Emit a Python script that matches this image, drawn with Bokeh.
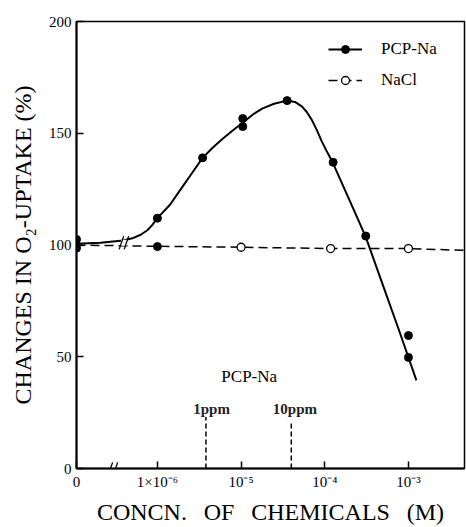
from bokeh.plotting import figure
from bokeh.models import Range1d, FixedTicker, Legend, LegendItem, Label
from bokeh.embed import file_html
from bokeh.resources import INLINE

# ---------------- data (x in log10 of molar concentration; "0" drawn at X_ZERO) ----------------
X_ZERO = -6.967
X_END = -2.33

X_TICKS = [X_ZERO, -6, -5, -4, -3]
X_TICK_LABELS = ["0", "1×10⁻⁶", "10⁻⁵", "10⁻⁴", "10⁻³"]
Y_TICKS = [0, 50, 100, 150, 200]

# PCP-Na measured points
PCP_X = [X_ZERO, X_ZERO, -6.0, -6.0, -5.46, -4.98, -4.98, -4.45, -3.90, -3.51, -3.00, -3.00]
PCP_Y = [102.5, 98.6, 112.0, 99.3, 139.0, 156.6, 153.0, 164.6, 137.0, 104.0, 59.5, 49.7]

# PCP-Na smooth curve
CURVE_X = [X_ZERO, -6.68, -6.41, -6.30, -6.20, -6.12, -6.06, -6.0, -5.85, -5.72, -5.59, -5.46,
           -5.34, -5.22, -5.10, -4.97, -4.855, -4.748, -4.606, -4.452, -4.357, -4.274,
           -4.215, -4.155, -4.096, -4.037, -3.977, -3.906, -3.71, -3.514, -3.30, -3.10, -2.905]
CURVE_Y = [100.6, 101.0, 102.0, 103.0, 104.6, 106.6, 109.0, 112.0, 118.0, 125.0, 132.0, 139.0,
           143.5, 147.5, 151.2, 155.0, 158.5, 161.0, 163.2, 164.6, 164.0, 162.0,
           159.5, 156.0, 151.5, 146.5, 142.0, 137.0, 120.5, 104.0, 81.5, 60.5, 39.4]

# NaCl
NACL_X = [-5.0, -3.93, -3.0]
NACL_Y = [99.0, 98.4, 98.4]
NACL_LINE_X = [X_ZERO, -6.0, -5.0, -3.93, -3.0, X_END]
NACL_LINE_Y = [100.0, 99.4, 99.0, 98.4, 98.4, 97.6]

# 1 ppm / 10 ppm markers of PCP-Na
PPM_X = [-5.42, -4.40]
PPM_TOP = [23.0, 21.5]
PPM_LABELS = ["1ppm", "10ppm"]
PPM_LABEL_X = [-5.353, -4.357]
PPM_LABEL_Y = [26.8, 26.8]
PPM_TITLE = "PCP-Na"
PPM_TITLE_X = -4.903
PPM_TITLE_Y = 41.2

# axis break positions
AXIS_BREAK_X = -6.53
CURVE_BREAK_X = -6.40
CURVE_BREAK_Y = 101.0

FONT = "Liberation Serif"
GAP = "\u2002\u2009"

p = figure(width=466, height=527, output_backend="svg", toolbar_location=None,
           x_range=Range1d(X_ZERO, X_END), y_range=Range1d(0, 200),
           min_border_left=76, min_border_right=2, min_border_top=21, min_border_bottom=59)
p.grid.visible = False
p.outline_line_color = "black"
p.outline_line_width = 1.5
p.background_fill_color = "white"
p.border_fill_color = "white"

for ax in (p.xaxis[0], p.yaxis[0]):
    ax.axis_line_width = 2
    ax.axis_line_color = "black"
    ax.major_tick_in = 7
    ax.major_tick_out = 0
    ax.major_tick_line_width = 1.5
    ax.minor_tick_line_color = None
    ax.major_label_text_font = FONT
    ax.major_label_text_font_size = "15px"
    ax.major_label_text_color = "black"
    ax.axis_label_text_font = FONT
    ax.axis_label_text_font_size = "24px"
    ax.axis_label_text_font_style = "normal"
    ax.axis_label_text_color = "black"

p.xaxis.ticker = FixedTicker(ticks=X_TICKS)
p.xaxis.major_label_overrides = {t: l for t, l in zip(X_TICKS, X_TICK_LABELS)}
p.xaxis.major_label_standoff = 5
p.xaxis.axis_label = GAP.join(["CONCN.", "OF", "CHEMICALS", "(M)"])
p.xaxis.axis_label_standoff = 6

p.yaxis.ticker = FixedTicker(ticks=Y_TICKS)
p.yaxis.major_label_standoff = 5
p.yaxis.axis_label = "CHANGES IN O₂-UPTAKE (%)"
p.yaxis.axis_label_standoff = 10

# NaCl dashed line and open circles
nacl_line = p.line(NACL_LINE_X, NACL_LINE_Y, line_color="black", line_width=1.5, line_dash="9 5")
nacl_pts = p.scatter(NACL_X, NACL_Y, marker="circle", size=8, fill_color="white",
                     line_color="black", line_width=1.3)

# PCP-Na curve and points
pcp_line = p.line(CURVE_X, CURVE_Y, line_color="black", line_width=2)
pcp_pts = p.scatter(PCP_X, PCP_Y, marker="circle", size=8, fill_color="black", line_color="black")

# ppm indicators
p.segment(x0=PPM_X, y0=[0] * len(PPM_X), x1=PPM_X, y1=PPM_TOP, line_color="black",
          line_width=1.5, line_dash="5 3")
for x, y, t in zip(PPM_LABEL_X, PPM_LABEL_Y, PPM_LABELS):
    p.add_layout(Label(x=x, y=y, text=t, text_font=FONT, text_font_size="15px",
                       text_font_style="bold", text_align="center", text_baseline="middle",
                       text_color="#222222"))
p.add_layout(Label(x=PPM_TITLE_X, y=PPM_TITLE_Y, text=PPM_TITLE, text_font=FONT,
                   text_font_size="17px", text_align="center", text_baseline="middle",
                   text_color="black"))

# break marks
p.scatter([AXIS_BREAK_X], [0], marker="square", size=7, fill_color="white", line_color=None)
p.scatter([AXIS_BREAK_X - 0.03, AXIS_BREAK_X + 0.03], [0, 0], marker="dash", size=13,
          angle=1.25, line_color="black", line_width=1.3)
p.scatter([CURVE_BREAK_X], [CURVE_BREAK_Y], marker="square", size=6, fill_color="white", line_color=None)
p.scatter([CURVE_BREAK_X - 0.03, CURVE_BREAK_X + 0.03], [CURVE_BREAK_Y] * 2, marker="dash",
          size=14, angle=1.25, line_color="black", line_width=1.3)

legend = Legend(items=[LegendItem(label="PCP-Na", renderers=[pcp_line, pcp_pts]),
                       LegendItem(label="NaCl", renderers=[nacl_line, nacl_pts])],
                location=(252, 378), padding=0, margin=0, border_line_alpha=0,
                background_fill_alpha=0, glyph_width=34, glyph_height=20, spacing=11,
                label_standoff=19, label_text_font=FONT, label_text_font_size="17px",
                label_text_color="black")
p.add_layout(legend)

open("out.html", "w").write(file_html(p, INLINE))
